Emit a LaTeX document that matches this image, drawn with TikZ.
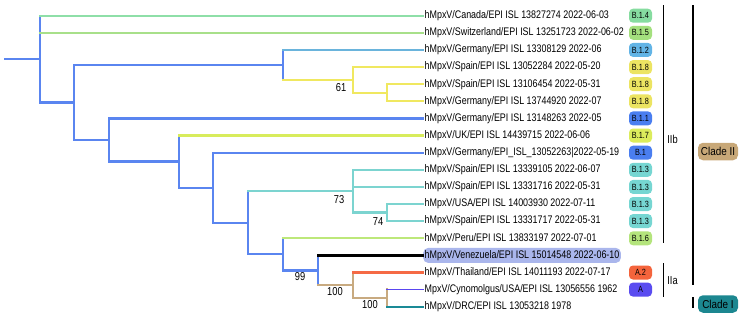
\documentclass[tikz,border=0pt]{standalone}
\usepackage{fontspec}
\setmainfont{Liberation Sans}
\newfontfamily\lab{Liberation Sans}[FakeStretch=0.81]
\definecolor{blu}{HTML}{5A85F0}
\definecolor{mint}{HTML}{8EDFA8}
\definecolor{lgreen}{HTML}{A8E08A}
\definecolor{skyb}{HTML}{6AB4DC}
\definecolor{yel}{HTML}{F0E860}
\definecolor{ukc}{HTML}{D8EC5C}
\definecolor{cya}{HTML}{7CD4D0}
\definecolor{peru}{HTML}{BDE87A}
\definecolor{redc}{HTML}{F56A45}
\definecolor{tan}{HTML}{C8AA80}
\definecolor{purp}{HTML}{5A46F0}
\definecolor{teal}{HTML}{1A8A96}
\definecolor{cBa}{HTML}{86DCA0}
\definecolor{cBb}{HTML}{A4E07E}
\definecolor{cBc}{HTML}{62B4E6}
\definecolor{cBd}{HTML}{ECE462}
\definecolor{cBe}{HTML}{4A7EF0}
\definecolor{cBf}{HTML}{DCEC5C}
\definecolor{cBg}{HTML}{76D6D2}
\definecolor{cBh}{HTML}{B4E47C}
\definecolor{cBi}{HTML}{F4643C}
\definecolor{cBj}{HTML}{5A4CF0}
\definecolor{cladeII}{HTML}{C8A878}
\definecolor{cladeI}{HTML}{1C8790}
\definecolor{venez}{HTML}{AAB6EC}
\begin{document}
\begin{tikzpicture}[x=1pt,y=-1pt,
  br/.style={line width=2.3pt, line cap=rect},
  tip/.style={anchor=west, inner sep=1.5pt, font=\lab\fontsize{11}{12}\selectfont},
  badge/.style={rounded corners=4pt, minimum width=23pt, minimum height=14pt, inner sep=0pt, font=\lab\fontsize{9}{10}\selectfont},
  bs/.style={inner sep=0pt, font=\lab\fontsize{11.5}{12}\selectfont},
  bar/.style={line width=1.7pt},
  clade/.style={rounded corners=5pt, minimum width=40pt, minimum height=17.5pt, inner sep=0pt, font=\fontsize{11.5}{12}\selectfont\addfontfeature{FakeStretch=0.86}}]
\useasboundingbox (0,0) rectangle (745,322);
% tips
\node[tip] (t1) at (423,15.7) {hMpxV/Canada/EPI ISL 13827274 2022-06-03};
\node[tip] (t2) at (423,32.8) {hMpxV/Switzerland/EPI ISL 13251723 2022-06-02};
\node[tip] (t3) at (423,49.9) {hMpxV/Germany/EPI ISL 13308129 2022-06};
\node[tip] (t4) at (423,67.1) {hMpxV/Spain/EPI ISL 13052284 2022-05-20};
\node[tip] (t5) at (423,84.2) {hMpxV/Spain/EPI ISL 13106454 2022-05-31};
\node[tip] (t6) at (423,101.3) {hMpxV/Germany/EPI ISL 13744920 2022-07};
\node[tip] (t7) at (423,118.4) {hMpxV/Germany/EPI ISL 13148263 2022-05};
\node[tip] (t8) at (423,135.5) {hMpxV/UK/EPI ISL 14439715 2022-06-06};
\node[tip] (t9) at (423,152.7) {hMpxV/Germany/EPI\_ISL\_13052263|2022-05-19};
\node[tip] (t10) at (423,169.8) {hMpxV/Spain/EPI ISL 13339105 2022-06-07};
\node[tip] (t11) at (423,186.9) {hMpxV/Spain/EPI ISL 13331716 2022-05-31};
\node[tip] (t12) at (423,204.0) {hMpxV/USA/EPI ISL 14003930 2022-07-11};
\node[tip] (t13) at (423,221.1) {hMpxV/Spain/EPI ISL 13331717 2022-05-31};
\node[tip] (t14) at (423,238.3) {hMpxV/Peru/EPI ISL 13833197 2022-07-01};
\node[tip, fill=venez, rounded corners=5pt, minimum height=15pt] (t15) at (423,255.4) {hMpxV/Venezuela/EPI ISL 15014548 2022-06-10};
\node[tip] (t16) at (423,272.5) {hMpxV/Thailand/EPI ISL 14011193 2022-07-17};
\node[tip] (t17) at (423,289.6) {MpxV/Cynomolgus/USA/EPI ISL 13056556 1962};
\node[tip] (t18) at (423,306.7) {hMpxV/DRC/EPI ISL 13053218 1978};
% badges
\node[badge, fill=cBa] (b1) at (640.5,15.7) {B.1.4};
\node[badge, fill=cBb] (b2) at (640.5,32.8) {B.1.5};
\node[badge, fill=cBc] (b3) at (640.5,49.9) {B.1.2};
\node[badge, fill=cBd] (b4) at (640.5,67.1) {B.1.8};
\node[badge, fill=cBd] (b5) at (640.5,84.2) {B.1.8};
\node[badge, fill=cBd] (b6) at (640.5,101.3) {B.1.8};
\node[badge, fill=cBe] (b7) at (640.5,118.4) {B.1.1};
\node[badge, fill=cBf] (b8) at (640.5,135.5) {B.1.7};
\node[badge, fill=cBe] (b9) at (640.5,152.7) {B.1};
\node[badge, fill=cBg] (b10) at (640.5,169.8) {B.1.3};
\node[badge, fill=cBg] (b11) at (640.5,186.9) {B.1.3};
\node[badge, fill=cBg] (b12) at (640.5,204.0) {B.1.3};
\node[badge, fill=cBg] (b13) at (640.5,221.1) {B.1.3};
\node[badge, fill=cBh] (b14) at (640.5,238.3) {B.1.6};
\node[badge, fill=cBi] (b16) at (640.5,272.5) {A.2};
\node[badge, fill=cBj] (b17) at (640.5,289.6) {A};
% internal nodes
\coordinate (r0) at (5,59.1);
\coordinate (r) at (40,59.1);
\coordinate (n1) at (74,102.45);
\coordinate (n2) at (283,64.9);
\coordinate (n4) at (353,79.9);
\coordinate (n5) at (387,92.75);
\coordinate (n3) at (109,140);
\coordinate (n6) at (179,161.6);
\coordinate (n7) at (213,187.7);
\coordinate (n8) at (248,222.75);
\coordinate (n9) at (353,191.2);
\coordinate (n11) at (387,212.55);
\coordinate (n10) at (283,254.3);
\coordinate (n12) at (318,270.35);
\coordinate (n13) at (353,285.3);
\coordinate (n14) at (387,298.15);
% branches
\draw[br, blu] (r0) -- (r);
\draw[br, blu] (r |- t1.west) -- (r |- n1);
\draw[br, mint] (r |- t1.west) -- (t1.west);
\draw[br, lgreen] (r |- t2.west) -- (t2.west);
\draw[br, blu] (r |- n1) -- (n1);
\draw[br, blu] (n1 |- n2) -- (n1 |- n3);
\draw[br, blu] (n1 |- n2) -- (n2);
\draw[br, blu] (n2 |- t3.west) -- (n2 |- n4);
\draw[br, skyb] (n2 |- t3.west) -- (t3.west);
\draw[br, yel] (n2 |- n4) -- (n4);
\draw[br, yel] (n4 |- t4.west) -- (n4 |- n5);
\draw[br, yel] (n4 |- t4.west) -- (t4.west);
\draw[br, yel] (n4 |- n5) -- (n5);
\draw[br, yel] (n5 |- t5.west) -- (n5 |- t6.west);
\draw[br, yel] (n5 |- t5.west) -- (t5.west);
\draw[br, yel] (n5 |- t6.west) -- (t6.west);
\draw[br, blu] (n1 |- n3) -- (n3);
\draw[br, blu] (n3 |- t7.west) -- (n3 |- n6);
\draw[br, blu] (n3 |- t7.west) -- (t7.west);
\draw[br, blu] (n3 |- n6) -- (n6);
\draw[br, blu] (n6 |- t8.west) -- (n6 |- n7);
\draw[br, ukc] (n6 |- t8.west) -- (t8.west);
\draw[br, blu] (n6 |- n7) -- (n7);
\draw[br, blu] (n7 |- t9.west) -- (n7 |- n8);
\draw[br, blu] (n7 |- t9.west) -- (t9.west);
\draw[br, blu] (n7 |- n8) -- (n8);
\draw[br, blu] (n8 |- n9) -- (n8 |- n10);
\draw[br, cya] (n8 |- n9) -- (n9);
\draw[br, cya] (n9 |- t10.west) -- (n9 |- n11);
\draw[br, cya] (n9 |- t10.west) -- (t10.west);
\draw[br, cya] (n9 |- t11.west) -- (t11.west);
\draw[br, cya] (n9 |- n11) -- (n11);
\draw[br, cya] (n11 |- t12.west) -- (n11 |- t13.west);
\draw[br, cya] (n11 |- t12.west) -- (t12.west);
\draw[br, cya] (n11 |- t13.west) -- (t13.west);
\draw[br, blu] (n8 |- n10) -- (n10);
\draw[br, blu] (n10 |- t14.west) -- (n10 |- n12);
\draw[br, peru] (n10 |- t14.west) -- (t14.west);
\draw[br, blu] (n10 |- n12) -- (n12);
\draw[br, blu] (n12 |- t15.west) -- (n12 |- n13);
\draw[br, black] (n12 |- t15.west) -- (t15.west);
\draw[br, tan] (n12 |- n13) -- (n13);
\draw[br, tan] (n13 |- t16.west) -- (n13 |- n14);
\draw[br, redc] (n13 |- t16.west) -- (t16.west);
\draw[br, tan] (n13 |- n14) -- (n14);
\draw[br, tan] (n14 |- t17.west) -- (n14 |- t18.west);
\draw[line width=1.3pt, line cap=rect, purp] (n14 |- t17.west) -- (t17.west);
\draw[br, teal] (n14 |- t18.west) -- (t18.west);
% bootstrap values
\node[bs] (s61) at (341,88) {61};
\node[bs] (s73) at (339,200) {73};
\node[bs] (s74) at (378,222) {74};
\node[bs] (s99) at (300,277) {99};
\node[bs] (s100a) at (335,292) {100};
\node[bs] (s100b) at (370,305) {100};
% group bars
\draw[bar] (663.5,5) -- (663.5,243);
\draw[bar] (663.5,263) -- (663.5,297);
\draw[bar] (693,5) -- (693,285);
\draw[bar] (693,297) -- (693,308);
\node[bs] (lIIb) at (672.5,139) {IIb};
\node[bs] (lIIa) at (672.5,281) {IIa};
\node[clade, fill=cladeII] (c2) at (718,151.5) {Clade II};
\node[clade, fill=cladeI] (c1) at (718,304) {Clade I};
\end{tikzpicture}
\end{document}
